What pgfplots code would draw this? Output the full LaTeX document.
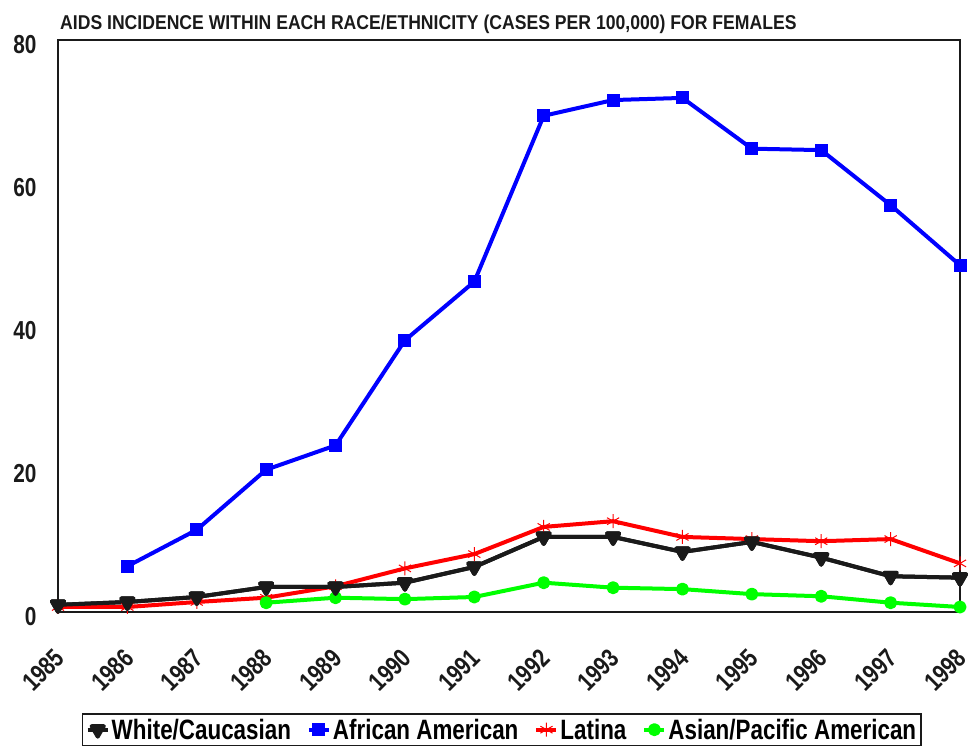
\documentclass[border=0pt]{standalone}
\usepackage{fontspec}
\setmainfont{Liberation Sans}[FakeStretch=0.8]
\newfontfamily\titlefont{Liberation Sans}[FakeStretch=0.88]
\usepackage{pgfplots}
\pgfplotsset{compat=1.18}

\definecolor{cblack}{RGB}{26,26,26}
\definecolor{cblue}{RGB}{0,0,255}
\definecolor{cred}{RGB}{255,0,0}
\definecolor{cgreen}{RGB}{0,255,0}

\begin{document}
\begin{tikzpicture}
\useasboundingbox (-58pt,-143pt) rectangle (914pt,612pt);
\begin{axis}[
  at={(0,0)}, anchor=south west,
  scale only axis, width=902pt, height=572pt,
  xmin=1985, xmax=1998, ymin=0, ymax=80,
  clip=false,
  axis line style={line width=1.5pt, cblack},
  major tick length=0pt,
  xtick={1985,...,1998}, ytick={0,20,...,80},
  /pgf/number format/assume math mode=true,
  x tick label style={/pgf/number format/1000 sep={}},
  ticklabel style={font=\fontsize{26}{26}\selectfont\bfseries, text=cblack},
  xticklabel style={xshift=4pt, yshift=-39pt, rotate=45, anchor=east},
  yticklabel style={xshift=-18pt, yshift=-5pt, anchor=east},
  legend columns=4,
  legend style={at={(rel axis cs:0.0266,-0.1766)}, anchor=north west,
    draw=cblack, line width=1.5pt, inner sep=3pt,
    font=\fontsize{28}{30}\selectfont\bfseries,
    /tikz/every even column/.append style={column sep=14pt}},
  legend image code/.code={\draw[mark repeat=2, mark phase=2] plot coordinates {(0pt,0pt) (10pt,0pt) (20pt,0pt)};},
  every axis plot/.append style={line width=4pt, line join=round},
]
\addplot[cblack, mark=triangle*, mark options={rotate=180}, mark size=7pt] coordinates {
  (1985,1.0) (1986,1.4) (1987,2.1) (1988,3.5) (1989,3.5) (1990,4.1) (1991,6.3)
  (1992,10.5) (1993,10.5) (1994,8.4) (1995,9.8) (1996,7.6) (1997,5.0) (1998,4.8)};
\addlegendentry{White/Caucasian}
\addplot[cblue, mark=square*, mark size=6pt, mark options={line width=0pt}] coordinates {
  (1986,6.4) (1987,11.5) (1988,19.9) (1989,23.3) (1990,38.0) (1991,46.2) (1992,69.4)
  (1993,71.6) (1994,71.9) (1995,64.8) (1996,64.6) (1997,56.9) (1998,48.5)};
\addlegendentry{African American}
\addplot[cred, mark=asterisk, mark size=7pt, mark options={line width=1pt}] coordinates {
  (1985,0.7) (1986,0.7) (1987,1.4) (1988,2.0) (1989,3.6) (1990,6.1) (1991,8.1)
  (1992,11.9) (1993,12.7) (1994,10.5) (1995,10.2) (1996,9.9) (1997,10.2) (1998,6.8)};
\addlegendentry{Latina}
\addplot[cgreen, mark=*, mark size=4.5pt] coordinates {
  (1988,1.3) (1989,2.0) (1990,1.8) (1991,2.1) (1992,4.1) (1993,3.4) (1994,3.2)
  (1995,2.5) (1996,2.2) (1997,1.3) (1998,0.7)};
\addlegendentry{Asian/Pacific American}
\addplot[cblack, mark=triangle*, mark options={rotate=180}, mark size=7pt, forget plot] coordinates {
  (1985,1.0) (1986,1.4) (1987,2.1) (1988,3.5) (1989,3.5) (1990,4.1) (1991,6.3)
  (1992,10.5) (1993,10.5) (1994,8.4) (1995,9.8) (1996,7.6) (1997,5.0) (1998,4.8)};
\node[anchor=base west, font=\titlefont\fontsize{20}{20}\selectfont\bfseries, text=cblack, inner sep=0pt]
  at (rel axis cs:0,1) [xshift=2pt, yshift=10pt] {AIDS INCIDENCE WITHIN EACH RACE/ETHNICITY (CASES PER 100,000) FOR FEMALES};
\end{axis}
\end{tikzpicture}
\end{document}
